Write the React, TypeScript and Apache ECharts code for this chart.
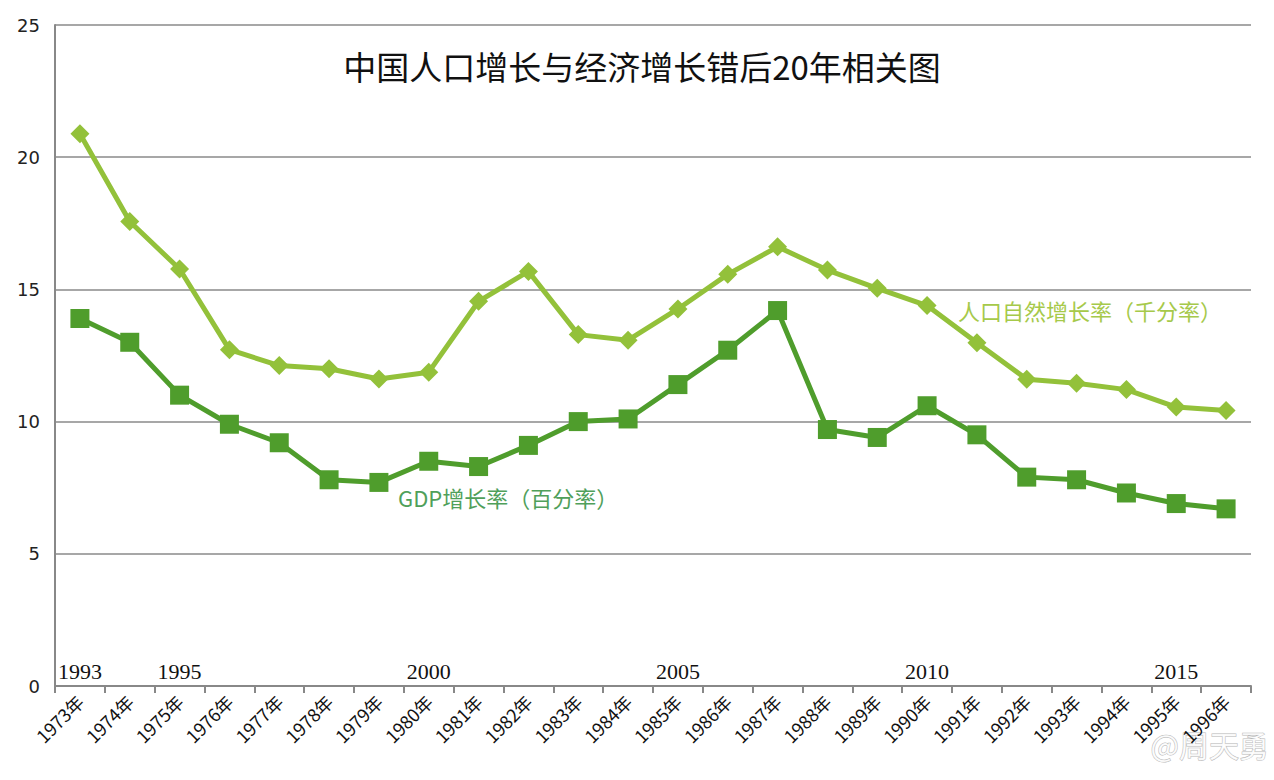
import React, { useEffect, useRef } from "react";
import * as echarts from "echarts";

const categories = [
  "1973年", "1974年", "1975年", "1976年", "1977年", "1978年", "1979年", "1980年",
  "1981年", "1982年", "1983年", "1984年", "1985年", "1986年", "1987年", "1988年",
  "1989年", "1990年", "1991年", "1992年", "1993年", "1994年", "1995年", "1996年",
];

const yearMarks = [
  "1993", "", "1995", "", "", "", "", "2000", "", "", "", "", "2005", "", "", "",
  "", "2010", "", "", "", "", "2015", "",
];

const populationGrowth = [
  20.89, 17.57, 15.77, 12.72, 12.12, 12.0, 11.61, 11.87, 14.55, 15.68, 13.29, 13.08,
  14.26, 15.57, 16.61, 15.73, 15.04, 14.39, 12.98, 11.6, 11.45, 11.21, 10.55, 10.42,
];

const gdpGrowth = [
  13.9, 13.0, 11.0, 9.9, 9.2, 7.8, 7.7, 8.5, 8.3, 9.1, 10.0, 10.1,
  11.4, 12.7, 14.2, 9.7, 9.4, 10.6, 9.5, 7.9, 7.8, 7.3, 6.9, 6.7,
];

const yTicks = [0, 5, 10, 15, 20, 25];

const titleText = "中国人口增长与经济增长错后20年相关图";
const popLabel = "人口自然增长率（千分率）";
const gdpLabel = "GDP增长率（百分率）";
const watermark = "@周天勇";

const LIGHT = "#93c13a";
const DARK = "#4f9d2c";

export default function App() {
  const ref = useRef<HTMLDivElement>(null);
  useEffect(() => {
    if (!ref.current) return;
    const chart = echarts.init(ref.current, null, { renderer: "svg" });
    chart.setOption({
      animation: false,
      backgroundColor: "#ffffff",
      title: {
        text: titleText,
        left: 637,
        textAlign: "center",
        top: 44,
        textStyle: {
          fontFamily: "Noto Sans CJK SC",
          fontSize: 33,
          fontWeight: "normal",
          color: "#111",
        },
      },
      grid: { left: 55, right: 23, top: 25, bottom: 94 },
      xAxis: [
        {
          type: "category",
          data: categories,
          boundaryGap: true,
          axisLine: { lineStyle: { color: "#888", width: 2 } },
          axisTick: { show: true, length: 7, lineStyle: { color: "#888", width: 2 } },
          axisLabel: {
            interval: 0,
            rotate: 45,
            margin: 12,
            fontFamily: "Noto Sans CJK SC",
            fontSize: 18,
            color: "#111",
          },
        },
        {
          type: "category",
          data: yearMarks,
          position: "bottom",
          boundaryGap: true,
          axisLine: { show: false },
          axisTick: { show: false },
          splitLine: { show: false },
          axisLabel: {
            inside: true,
            interval: 0,
            margin: 4,
            fontFamily: "Liberation Serif",
            fontSize: 22,
            color: "#111",
          },
        },
      ],
      yAxis: {
        type: "value",
        min: yTicks[0],
        max: yTicks[yTicks.length - 1],
        interval: 5,
        axisLine: { show: true, lineStyle: { color: "#888", width: 2 } },
        axisTick: { show: false },
        axisLabel: {
          margin: 15,
          fontFamily: "DejaVu Sans",
          fontSize: 18,
          color: "#222",
        },
        splitLine: { lineStyle: { color: "#8a8a8a", width: 1.5 } },
      },
      series: [
        {
          name: popLabel,
          type: "line",
          data: populationGrowth,
          xAxisIndex: 0,
          symbol: "diamond",
          symbolSize: 19,
          lineStyle: { color: LIGHT, width: 5 },
          itemStyle: { color: LIGHT },
        },
        {
          name: gdpLabel,
          type: "line",
          data: gdpGrowth,
          xAxisIndex: 0,
          symbol: "rect",
          symbolSize: 19,
          lineStyle: { color: DARK, width: 5 },
          itemStyle: { color: DARK },
        },
      ],
      graphic: [
        {
          type: "text",
          left: 958,
          top: 299,
          style: {
            text: popLabel,
            fill: "#a6c94a",
            font: "22px 'Noto Sans CJK SC'",
          },
        },
        {
          type: "text",
          left: 398,
          top: 486,
          style: {
            text: gdpLabel,
            fill: "#4fa05a",
            font: "22px 'Noto Sans CJK SC'",
          },
        },
        {
          type: "text",
          left: 1150,
          top: 728,
          style: {
            text: watermark,
            fill: "rgba(255,255,255,0.85)",
            stroke: "#b8b8b8",
            lineWidth: 1,
            font: "30px 'Noto Sans CJK SC'",
          },
        },
      ],
    });
    return () => chart.dispose();
  }, []);
  return (
    <div
      ref={ref}
      style={{ position: "fixed", left: 0, top: 0, width: 1274, height: 780 }}
    />
  );
}
